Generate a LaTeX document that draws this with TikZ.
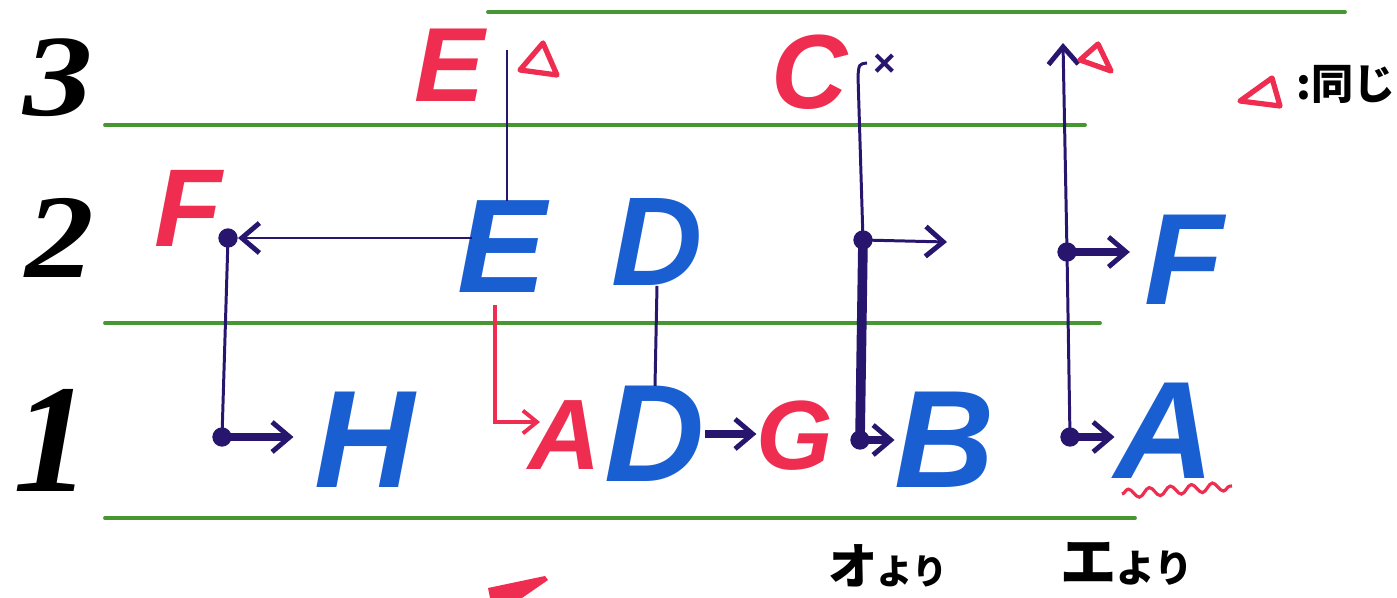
\documentclass[tikz,border=0pt]{standalone}
\usepackage{fontspec}
\setmainfont{Liberation Sans}
\newfontfamily\numfont{Liberation Serif}
\newfontfamily\jp{Noto Sans CJK JP}
\usetikzlibrary{arrows.meta,decorations.pathmorphing}
\definecolor{cred}{RGB}{238,45,80}
\definecolor{cblue}{RGB}{25,95,210}
\definecolor{cnavy}{RGB}{40,22,110}
\definecolor{cgreen}{RGB}{70,150,50}
\begin{document}
\begin{tikzpicture}[x=0.02cm,y=-0.02cm,
  rule/.style={cgreen,line width=2.2pt,line cap=round},
  letter/.style={inner sep=0pt,font=\fontsize{#1}{#1}\selectfont\bfseries\itshape},
  rl/.style={letter=#1,text=cred},
  bl/.style={letter=#1,text=cblue},
  num/.style={inner sep=0pt,text=black,font=\fontsize{#1}{#1}\selectfont\numfont\bfseries\itshape},
  thin/.style={cnavy,line width=1.7pt},
  thick/.style={cnavy,line width=5pt},
  arr/.style={-{Straight Barb[length=10pt,width=17pt,line width=2.8pt]}},
  dotc/.style={circle,fill=cnavy,inner sep=0pt,minimum size=11pt},
  tri/.style={cred,line width=3pt,line join=round},
  jptext/.style={inner sep=0pt,text=black,font=\jp\bfseries},
]
\useasboundingbox (0,0) rectangle (1397,598);

% ruled lines
\draw[rule] (488,12) -- (1345,12);
\draw[rule] (105,125) -- (1085,125);
\draw[rule] (105,323) -- (1100,323);
\draw[rule] (105,518) -- (1135,518);

% row numbers
\node[num=66,xscale=1.2] (n3) at (58,78) {3};
\node[num=68,xscale=1.15] (n2) at (60,238) {2};
\node[num=88] (n1) at (52,440) {1};

% letters
\node[rl=63] (Fr) at (188,208) {F};
\node[bl=79] (H) at (365,440) {H};
\node[bl=76] (Eb) at (502,247) {E};
\node[rl=60] (Er) at (450,65) {E};
\node[bl=72] (Dt) at (657,242) {D};
\node[bl=79] (Db) at (655,434) {D};
\node[rl=57] (Ar) at (565,435) {A};
\node[rl=56] (G) at (795,436) {G};
\node[rl=60] (C) at (810,72) {C};
\node[bl=79] (B) at (945,440) {B};
\node[bl=74] (Fb) at (1184,260) {F};
\node[bl=79] (Ab) at (1165,431) {A};
\node[inner sep=0pt,text=cnavy,font=\fontsize{22}{22}\selectfont\bfseries] (xm) at (885,65) {×};

% dots
\node[dotc] (d1) at (228,238) {};
\node[dotc] (d2) at (222,437) {};
\node[dotc] (d3) at (863,240) {};
\node[dotc] (d4) at (860,440) {};
\node[dotc] (d5) at (1067,252) {};
\node[dotc] (d6) at (1070,437) {};

% helper coordinates
\coordinate (eL) at (472,238);
\coordinate (eT) at (507,50);
\coordinate (rs) at (495,305);
\coordinate (ra) at (540,422);
\coordinate (cT) at (867,63);
\coordinate (cH) at (858,76);
\coordinate (c2) at (947,242);
\coordinate (aT) at (1063,43);

% connectors
\draw[thin,arr] (eL) -- (d1);
\draw[thin] (d1.center) -- (d2.center);
\draw[thick,arr,shorten >=12pt] (d2.center) -- (d2.center -| H.west);
\draw[thin] (Eb.north -| eT) -- (eT);
\draw[cred,line width=2pt,-{Straight Barb[length=8pt,width=13pt,line width=2.2pt]}] (rs) |- (ra);
\draw[thin] (Dt.south) -- (Db.north);
\draw[thick,arr] (Db.east) -- (Db.east -| G.west);
\draw[thin] (cT) .. controls (859,64) .. (cH) -- (d3.center);
\draw[thin,arr] (d3.center) -- (c2);
\draw[thick,line width=5.5pt] (d3.center) -- (d4.center);
\draw[thick,arr] (d4.center) -- (d4.center -| B.west);
\draw[thin,arr] (d6.center) -- (d5.center) -- (aT);
\draw[thick,arr,shorten >=8pt] (d5.center) -- (d5.center -| Fb.west);
\draw[thick,arr] (d6.center) -- (d6.center -| Ab.west);

% wavy underline
\draw[cred,line width=1.8pt,decorate,decoration={snake,amplitude=2.5pt,segment length=12pt}] (1122,494) -- (1232,486);

% triangles
\draw[tri] (520,70) -- (543,43) -- (557,75) -- cycle;
\draw[tri] (1080,60) -- (1098,44) -- (1111,71) -- cycle;
\draw[tri] (1240,101) -- (1272,78) -- (1280,106) -- cycle;
\node[jptext,anchor=west,font=\jp\bfseries\fontsize{24}{24}\selectfont] (leg) at (1296,84) {:同じ};

% bottom notes
\node[jptext,anchor=west] (o) at (828,566) {{\fontsize{28}{28}\selectfont オ}{\fontsize{20}{20}\selectfont より}};
\node[jptext,anchor=west] (e) at (1060,564) {{\fontsize{32}{32}\selectfont エ}{\fontsize{22}{22}\selectfont より}};

% cut-off red stroke at the bottom
\fill[cred] (490,598) -- (488,588) -- (545,576) -- (548,580) -- (522,598) -- cycle;
\end{tikzpicture}
\end{document}
